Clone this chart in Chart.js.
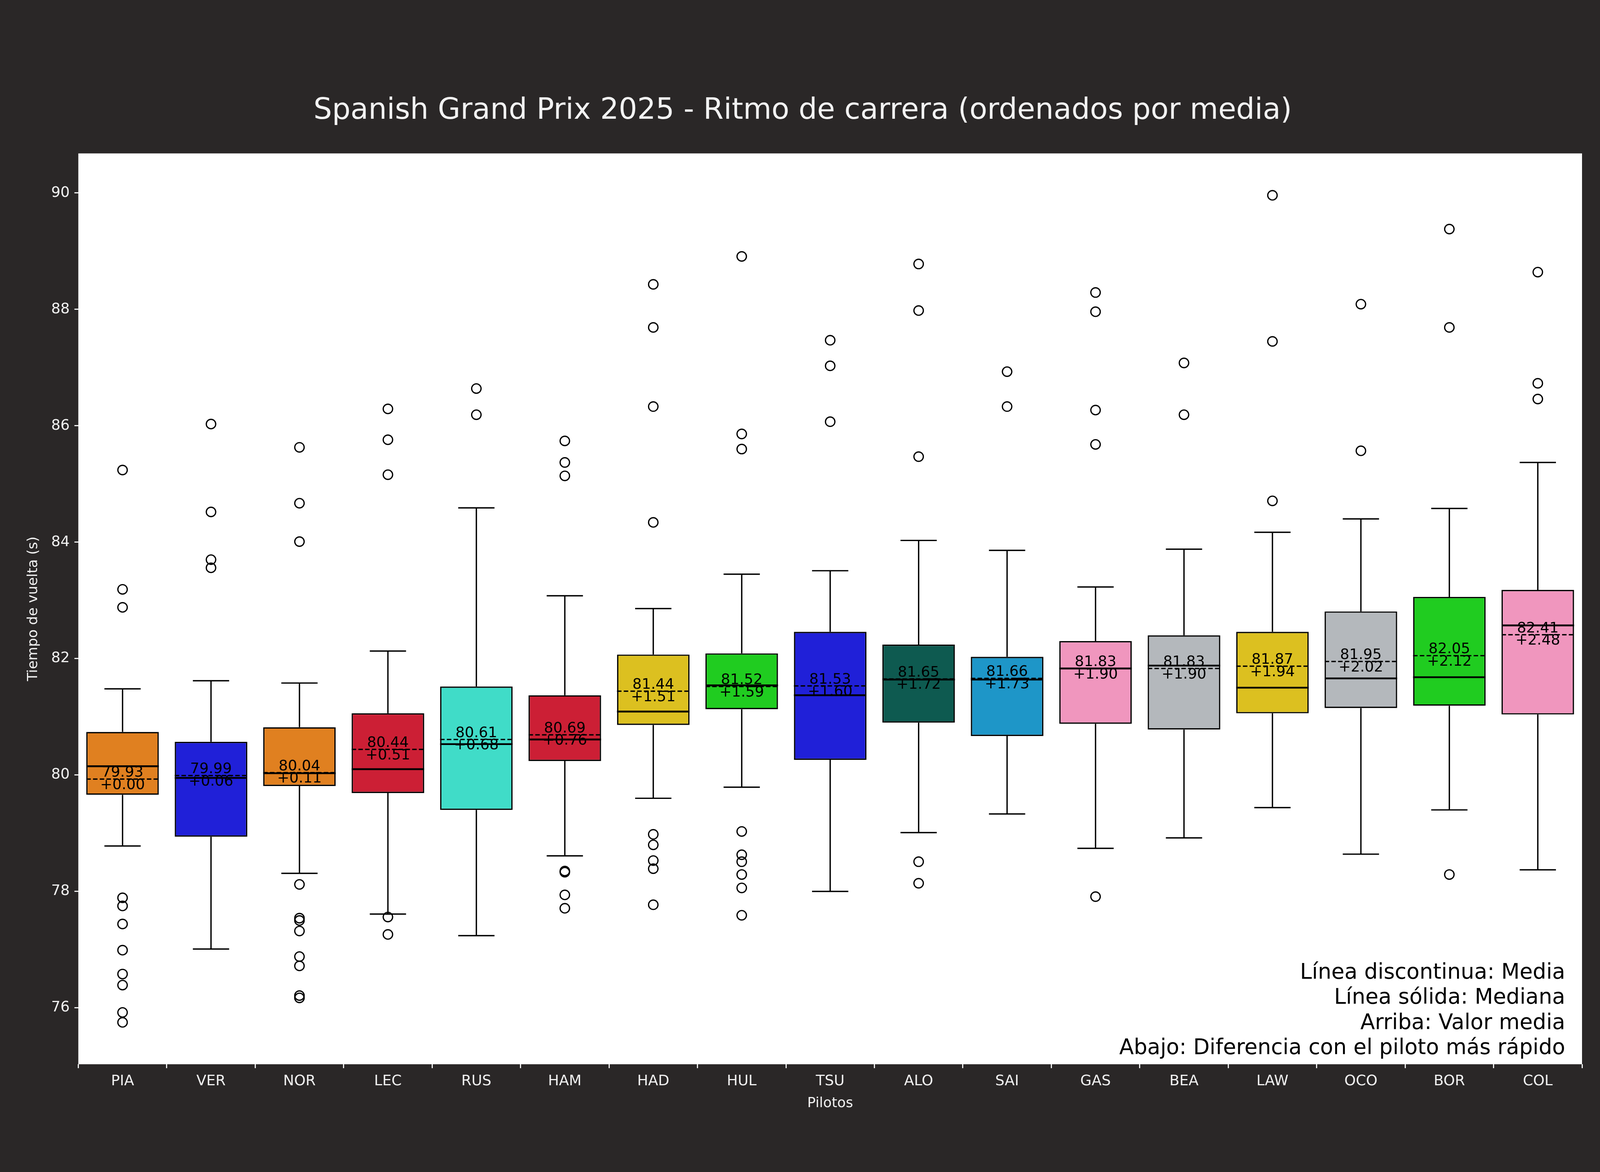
<!DOCTYPE html>
<html>
<head>
<meta charset="utf-8">
<script src="https://cdn.jsdelivr.net/npm/chart.js@4.4.1/dist/chart.umd.min.js"></script>
<style>
  html, body { margin: 0; padding: 0; background: #2a2727; overflow: hidden; }
  #wrap { width: 4500px; height: 3000px; }
</style>
</head>
<body>
<div id="wrap"><canvas id="chartPace" width="4500" height="3000"></canvas></div>
<script>
// pilotos ordenados por media
const drivers = ['PIA', 'VER', 'NOR', 'LEC', 'RUS', 'HAM', 'HAD', 'HUL', 'TSU', 'ALO', 'SAI', 'GAS', 'BEA', 'LAW', 'OCO', 'BOR', 'COL'];
const whiskerLow = [78.78, 77.01, 78.31, 77.61, 77.24, 78.61, 79.60, 79.79, 78.00, 79.01, 79.33, 78.74, 78.92, 79.44, 78.64, 79.40, 78.37];
const q1 = [79.66, 78.94, 79.81, 79.69, 79.40, 80.24, 80.86, 81.13, 80.26, 80.90, 80.67, 80.88, 80.78, 81.06, 81.15, 81.19, 81.04];
const medians = [80.15, 79.95, 80.03, 80.10, 80.53, 80.61, 81.09, 81.54, 81.37, 81.64, 81.64, 81.83, 81.88, 81.50, 81.66, 81.68, 82.57];
const q3 = [80.74, 80.57, 80.82, 81.06, 81.52, 81.37, 82.07, 82.09, 82.46, 82.24, 82.03, 82.30, 82.40, 82.46, 82.81, 83.06, 83.18];
const whiskerHigh = [81.48, 81.62, 81.58, 82.13, 84.59, 83.08, 82.86, 83.45, 83.51, 84.03, 83.86, 83.23, 83.88, 84.17, 84.40, 84.58, 85.37];
const means = [79.93, 79.99, 80.04, 80.44, 80.61, 80.69, 81.44, 81.52, 81.53, 81.65, 81.66, 81.83, 81.83, 81.87, 81.95, 82.05, 82.41];
const outliers = [
    [85.24, 83.19, 82.88, 77.89, 77.75, 77.44, 76.99, 76.58, 76.39, 75.92, 75.75],
    [86.03, 84.52, 83.70, 83.56],
    [85.63, 84.67, 84.01, 78.12, 77.54, 77.50, 77.32, 76.88, 76.72, 76.21, 76.17],
    [86.29, 85.76, 85.16, 77.56, 77.26],
    [86.64, 86.19],
    [85.74, 85.37, 85.14, 78.35, 78.33, 77.94, 77.71],
    [88.43, 87.69, 86.33, 84.34, 78.98, 78.80, 78.53, 78.39, 77.77],
    [88.91, 85.86, 85.60, 79.03, 78.63, 78.51, 78.29, 78.06, 77.59],
    [87.47, 87.03, 86.07],
    [88.78, 87.98, 85.47, 78.51, 78.14],
    [86.93, 86.33],
    [88.29, 87.96, 86.27, 85.68, 77.91],
    [87.08, 86.19],
    [89.96, 87.45, 84.71],
    [88.09, 85.57],
    [89.38, 87.69, 78.29],
    [88.64, 86.73, 86.46]
];
const boxColors = ['#e08020', '#2020d8', '#e08020', '#cc1f35', '#40dcc8', '#cc1f35', '#dcc020', '#20cc20', '#2020d8', '#0e5a50', '#1e96c8', '#f096be', '#b4b8bc', '#dcc020', '#b4b8bc', '#20cc20', '#f096be'];
const noteLines = ['Línea discontinua: Media', 'Línea sólida: Mediana', 'Arriba: Valor media', 'Abajo: Diferencia con el piloto más rápido'];

const S = 2.87; // escala respecto a la figura original
const bestMean = Math.min(...means);

let boxData = drivers.map((d, i) => [q1[i], q3[i]]);
let outlierPoints = [];
drivers.forEach((d, i) => {
    outliers[i].forEach(v => outlierPoints.push({ x: d, y: v }));
});

const bgPlugin = {
    id: 'bgPlugin',
    beforeDraw(chart) {
        const { ctx, chartArea } = chart;
        ctx.save();
        ctx.fillStyle = '#2a2727';
        ctx.fillRect(0, 0, chart.width, chart.height);
        ctx.fillStyle = '#ffffff';
        ctx.fillRect(chartArea.left, chartArea.top, chartArea.right - chartArea.left, chartArea.bottom - chartArea.top);
        ctx.restore();
    }
};

const boxPlugin = {
    id: 'boxPlugin',
    afterDatasetsDraw(chart) {
        const { ctx, chartArea } = chart;
        const x = chart.scales.x;
        const y = chart.scales.y;
        const meta = chart.getDatasetMeta(0);
        ctx.save();
        ctx.strokeStyle = '#000';
        ctx.fillStyle = '#000';
        drivers.forEach((d, i) => {
            const bar = meta.data[i];
            const cx = x.getPixelForValue(i);
            const half = bar.width / 2;
            const cap = half / 2;
            ctx.lineWidth = 1.2 * S;
            ctx.setLineDash([]);
            // bigotes
            ctx.beginPath();
            ctx.moveTo(cx, y.getPixelForValue(q1[i]));
            ctx.lineTo(cx, y.getPixelForValue(whiskerLow[i]));
            ctx.moveTo(cx - cap, y.getPixelForValue(whiskerLow[i]));
            ctx.lineTo(cx + cap, y.getPixelForValue(whiskerLow[i]));
            ctx.moveTo(cx, y.getPixelForValue(q3[i]));
            ctx.lineTo(cx, y.getPixelForValue(whiskerHigh[i]));
            ctx.moveTo(cx - cap, y.getPixelForValue(whiskerHigh[i]));
            ctx.lineTo(cx + cap, y.getPixelForValue(whiskerHigh[i]));
            ctx.stroke();
            // mediana
            ctx.lineWidth = 1.6 * S;
            ctx.beginPath();
            ctx.moveTo(cx - half, y.getPixelForValue(medians[i]));
            ctx.lineTo(cx + half, y.getPixelForValue(medians[i]));
            ctx.stroke();
            // media
            const my = y.getPixelForValue(means[i]);
            ctx.lineWidth = 1.2 * S;
            ctx.setLineDash([4 * S, 2 * S]);
            ctx.beginPath();
            ctx.moveTo(cx - half, my);
            ctx.lineTo(cx + half, my);
            ctx.stroke();
            // textos
            ctx.setLineDash([]);
            ctx.font = (13 * S) + 'px "DejaVu Sans"';
            ctx.textAlign = 'center';
            ctx.textBaseline = 'bottom';
            ctx.fillText(means[i].toFixed(2), cx, my + 1 * S);
            ctx.textBaseline = 'top';
            ctx.fillText('+' + (means[i] - bestMean).toFixed(2), cx, my - 1 * S);
        });
        // nota
        ctx.font = (19 * S) + 'px "DejaVu Sans"';
        ctx.textAlign = 'right';
        ctx.textBaseline = 'alphabetic';
        const lh = 22.5 * S;
        noteLines.forEach((t, k) => {
            ctx.fillText(t, chartArea.right - 15 * S, chartArea.bottom - 9 * S - (noteLines.length - 1 - k) * lh);
        });
        ctx.restore();
    }
};

var ctx = document.getElementById('chartPace');

const myChartPace = new Chart(ctx, {
    type: 'bar',
    data: {
        labels: drivers,
        datasets: [
            {
                type: 'bar',
                data: boxData,
                backgroundColor: boxColors,
                borderColor: '#000',
                borderWidth: 1.2 * S,
                borderSkipped: false,
                barPercentage: 0.82,
                categoryPercentage: 1.0,
                order: 2
            },
            {
                type: 'line',
                data: outlierPoints,
                showLine: false,
                pointRadius: 4.2 * S,
                pointBorderWidth: 1.1 * S,
                pointBorderColor: '#000',
                pointBackgroundColor: 'rgba(0,0,0,0)',
                order: 1
            }
        ]
    },
    options: {
        responsive: false,
        animation: false,
        devicePixelRatio: 1,
        layout: { padding: { left: 60, right: 450, top: 40, bottom: 150 } },
        plugins: {
            legend: { display: false },
            tooltip: { enabled: false },
            title: {
                display: true,
                text: 'Spanish Grand Prix 2025 - Ritmo de carrera (ordenados por media)',
                color: '#f2f2f2',
                font: { family: 'DejaVu Sans', size: 26 * S, weight: 'normal' },
                padding: { top: 200, bottom: 22 * S }
            }
        },
        scales: {
            x: {
                offset: true,
                grid: { drawOnChartArea: false, drawTicks: true, tickLength: 10, color: '#f0f0f0', lineWidth: 3 },
                border: { display: false },
                ticks: { color: '#f0f0f0', font: { family: 'DejaVu Sans', size: 13 * S }, padding: 12 },
                title: { display: true, text: 'Pilotos', color: '#f0f0f0', font: { family: 'DejaVu Sans', size: 12.5 * S }, padding: { top: 0 } }
            },
            y: {
                min: 75.03,
                max: 90.68,
                grid: { drawOnChartArea: false, drawTicks: true, tickLength: 10, color: '#f0f0f0', lineWidth: 3 },
                border: { display: false },
                afterBuildTicks(axis) {
                    axis.ticks = [76, 78, 80, 82, 84, 86, 88, 90].map(v => ({ value: v }));
                },
                ticks: { color: '#f0f0f0', font: { family: 'DejaVu Sans', size: 13 * S }, padding: 12 },
                title: { display: true, text: 'Tiempo de vuelta (s)', color: '#f0f0f0', font: { family: 'DejaVu Sans', size: 12.5 * S }, padding: { bottom: 12 } }
            }
        }
    },
    plugins: [bgPlugin, boxPlugin]
});
</script>
</body>
</html>
